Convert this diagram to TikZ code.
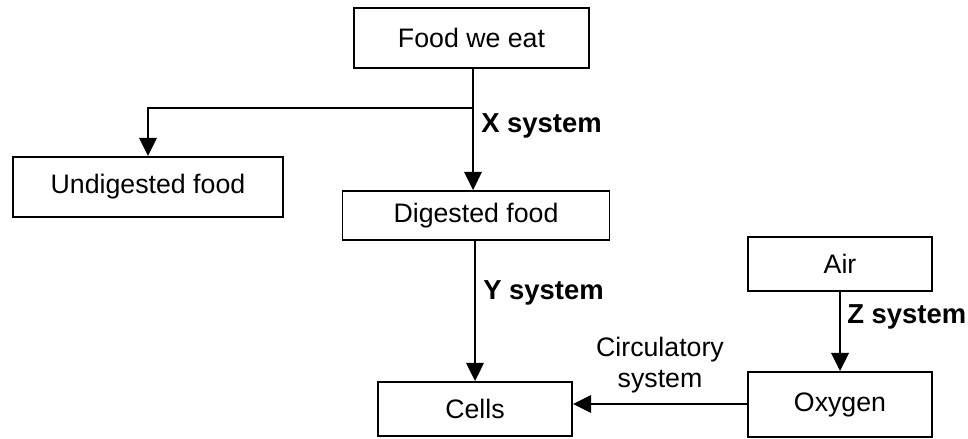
\documentclass[tikz,border=0pt]{standalone}
\usepackage{fontspec}
\setmainfont{Liberation Sans}
\usetikzlibrary{arrows.meta}
\tikzset{
  box/.style={draw, line width=1.3pt, inner sep=0pt, font=\fontsize{19}{22}\selectfont},
  arr/.style={line width=1.6pt, -{Triangle[length=13pt,width=12.5pt]}},
  lab/.style={font=\fontsize{19.5}{22}\selectfont\bfseries, anchor=west, inner sep=0pt}
}
\begin{document}
\begin{tikzpicture}[x=0.025cm,y=-0.025cm]
  \useasboundingbox (0,0) rectangle (968,439);
  \node[box, minimum width=5.875cm, minimum height=1.5cm] (food) at (471.5,38) {Food we eat};
  \node[box, minimum width=6.75cm, minimum height=1.5cm] (undig) at (148,187) {Undigested food};
  \node[box, minimum width=6.675cm, minimum height=1.225cm] (dig) at (476,215.5) {Digested food};
  \node[box, minimum width=4.85cm, minimum height=1.35cm] (cells) at (475,409) {Cells};
  \node[box, minimum width=4.6cm, minimum height=1.35cm] (air) at (840,264) {Air};
  \node[box, minimum width=4.6cm, minimum height=1.625cm] (oxy) at (840,404.5) {Oxygen};
  % branches
  \coordinate (split) at (473,108);
  \draw[arr] (food.south -| split) -- (dig.north -| split);
  \draw[arr] (split) -| (undig.north);
  \draw[arr] (dig.south -| cells.north) -- (cells.north);
  \draw[arr] (air.south) -- (oxy.north);
  \draw[arr] (oxy.west |- 0,404) -- (cells.east |- 0,404)
    node[midway, above=4pt, align=center, font=\fontsize{19}{22}\selectfont] (circ) {Circulatory\\system};
  % labels
  \node[lab] (xlab) at (481,126) {X system};
  \node[lab] (ylab) at (483,293) {Y system};
  \node[lab] (zlab) at (847,317) {Z system};
\end{tikzpicture}
\end{document}
